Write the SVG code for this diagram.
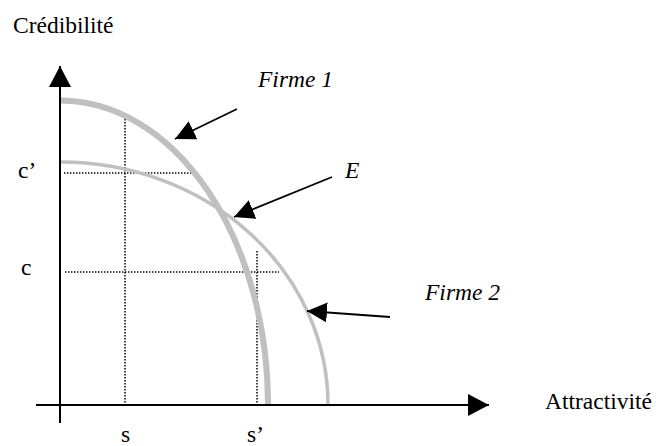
<svg xmlns="http://www.w3.org/2000/svg" width="656" height="446" viewBox="0 0 656 446">
<style>
text{font-family:"Liberation Serif","Times New Roman","DejaVu Serif",serif;font-size:23.5px;fill:#000}
.it{font-style:italic}
.axis{stroke:#000;stroke-width:2;fill:none}
.ptr{stroke:#000;stroke-width:1.8;fill:none}
.dot{stroke:#000;stroke-width:1.5;stroke-dasharray:1.4 1.6;fill:none}
.curve{stroke:#c0c0c0;fill:none}
</style>
<defs>
<marker id="ah" markerUnits="userSpaceOnUse" viewBox="0 0 20 20" markerWidth="20" markerHeight="20" refX="20" refY="10" orient="auto">
<path d="M0,0 L20,10 L0,20 z" fill="#000"/>
</marker>
<marker id="ahAxis" markerUnits="userSpaceOnUse" viewBox="0 0 21 22" markerWidth="21" markerHeight="22" refX="21" refY="11" orient="auto">
<path d="M0,0 L21,11 L0,22 z" fill="#000"/>
</marker>
</defs>
<g id="guides">
<line class="dot" x1="64" y1="173" x2="192" y2="173"/>
<line class="dot" x1="125" y1="113" x2="125" y2="404"/>
<line class="dot" x1="65" y1="272" x2="279" y2="272"/>
<line class="dot" x1="257" y1="251" x2="257" y2="404"/>
</g>
<g id="firme1-curve"><path class="curve" stroke-width="6" d="M61,100.5 A208,304.5 0 0 1 268,405"/></g>
<g id="firme2-curve"><path class="curve" stroke-width="3.5" d="M61,162 A267,243 0 0 1 328,405"/></g>
<g id="axes">
<line class="axis" x1="60" y1="423" x2="60" y2="66" marker-end="url(#ahAxis)"/>
<line class="axis" x1="36" y1="405" x2="489" y2="405" marker-end="url(#ahAxis)"/>
</g>
<g id="connectors">
<line class="ptr" x1="237" y1="109" x2="175" y2="139" marker-end="url(#ah)"/>
<line class="ptr" x1="332" y1="177" x2="234" y2="217" marker-end="url(#ah)"/>
<line class="ptr" x1="390" y1="317" x2="307" y2="311" marker-end="url(#ah)"/>
</g>
<g id="labels">
<text x="13" y="33">Crédibilité</text>
<text x="545" y="409">Attractivité</text>
<text x="18" y="178">c’</text>
<text x="21" y="275">c</text>
<text x="121" y="442">s</text>
<text x="247" y="442">s’</text>
</g>
<g id="label-firme1"><text class="it" x="258" y="87">Firme 1</text></g>
<g id="label-E"><text class="it" x="345" y="178">E</text></g>
<g id="label-firme2"><text class="it" x="425" y="300">Firme 2</text></g>
</svg>
